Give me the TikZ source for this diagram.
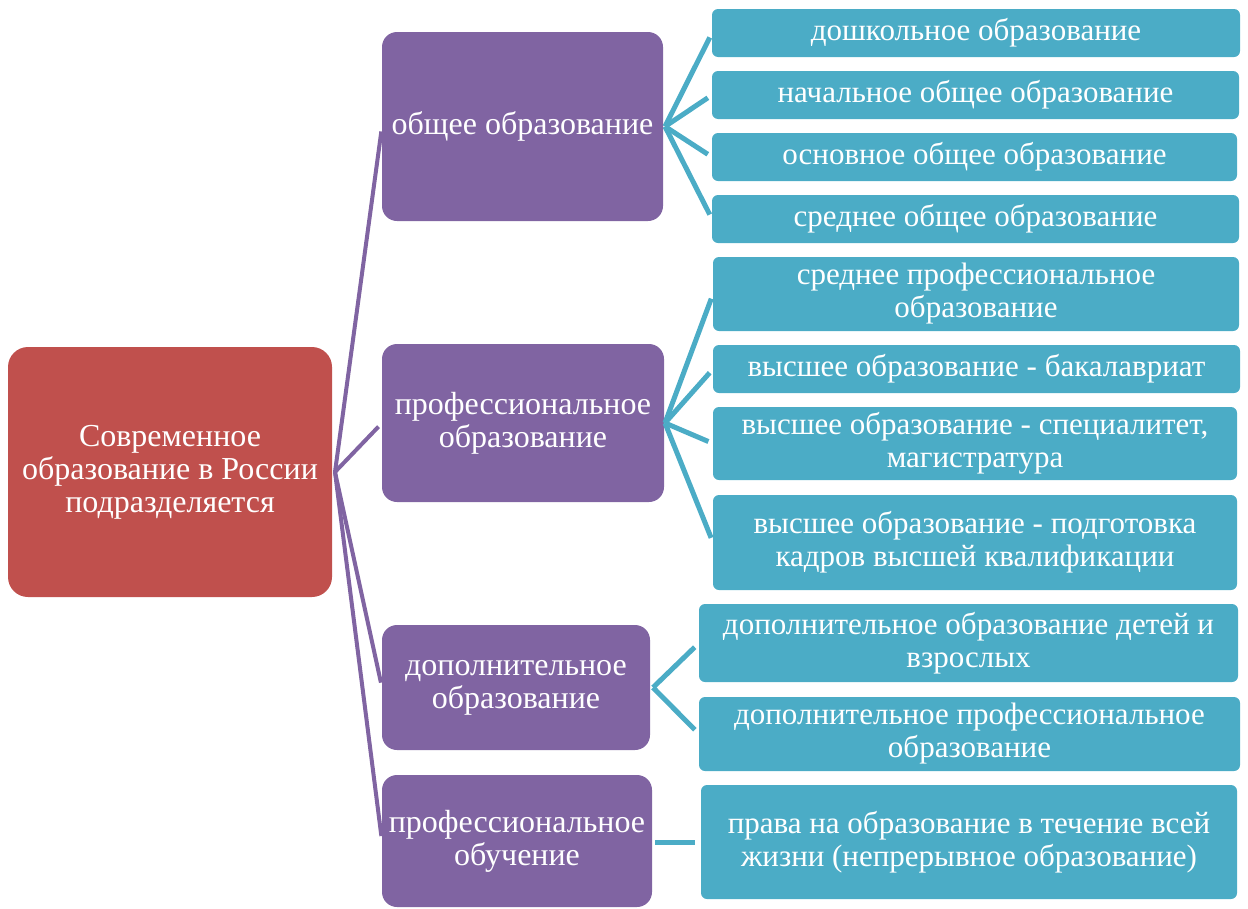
\documentclass[tikz,border=0pt]{standalone}
\usepackage{fontspec}
\setmainfont{Liberation Serif}
\definecolor{rootred}{HTML}{C0504D}
\definecolor{midpurple}{HTML}{8064A2}
\definecolor{leafblue}{HTML}{4BACC6}
\begin{document}
\begin{tikzpicture}[x=1pt,y=-1pt,
  box/.style={rectangle, inner sep=0pt, outer sep=0pt, text=white, align=center,
    font=\fontsize{32}{33}\selectfont},
  rootbox/.style={box, fill=rootred, rounded corners=20pt},
  midbox/.style={box, fill=midpurple, rounded corners=15pt},
  leafbox/.style={box, fill=leafblue, rounded corners=6pt, font=\fontsize{31}{33}\selectfont},
  plink/.style={draw=midpurple, line width=4pt},
  blink/.style={draw=leafblue, line width=5pt}]
\useasboundingbox (0,0) rectangle (1248,908);

\node[rootbox, minimum width=324, minimum height=250] (root) at (170,472)
  {Современное\\образование в России\\подразделяется};

\node[midbox, minimum width=281, minimum height=189] (p1) at (522.5,126.5) {общее образование};
\node[midbox, minimum width=282, minimum height=158] (p2) at (523,423) {профессиональное\\образование};
\node[midbox, minimum width=268, minimum height=125] (p3) at (516,687.5) {дополнительное\\образование};
\node[midbox, minimum width=270, minimum height=132] (p4) at (517,841) {профессиональное\\обучение};

\node[leafbox, minimum width=528, minimum height=48] (l1) at (976,33) {дошкольное образование};
\node[leafbox, minimum width=527, minimum height=48] (l2) at (975.5,95) {начальное общее образование};
\node[leafbox, minimum width=525, minimum height=48] (l3) at (974.5,157) {основное общее образование};
\node[leafbox, minimum width=527, minimum height=48] (l4) at (975.5,219) {среднее общее образование};
\node[leafbox, minimum width=526, minimum height=74] (l5) at (976,294) {среднее профессиональное\\образование};
\node[leafbox, minimum width=527, minimum height=48] (l6) at (976.5,369) {высшее образование - бакалавриат};
\node[leafbox, minimum width=524, minimum height=73] (l7) at (975,443.5) {высшее образование - специалитет,\\магистратура};
\node[leafbox, minimum width=524, minimum height=95] (l8) at (975,542.5) {высшее образование - подготовка\\кадров высшей квалификации};
\node[leafbox, minimum width=539, minimum height=78] (l9) at (968.5,643) {дополнительное образование детей и\\взрослых};
\node[leafbox, minimum width=541, minimum height=74] (l10) at (969.5,734) {дополнительное профессиональное\\образование};
\node[leafbox, minimum width=536, minimum height=114] (l11) at (969,842) {права на образование в течение всей\\жизни (непрерывное образование)};

% purple connectors
\coordinate (rs) at ([xshift=3pt]root.east);
\foreach \p in {p1,p2,p3,p4}
  \draw[plink, shorten >=5pt] (rs) -- (\p.west);

% blue connectors
\coordinate (b1) at ([xshift=2pt]p1.east);
\foreach \l in {l1,l2,l3,l4}
  \draw[blink, shorten >=5pt] (b1) -- (\l.west);
\coordinate (b2) at ([xshift=1pt]p2.east);
\foreach \l in {l5,l6,l7,l8}
  \draw[blink, shorten >=5pt] (b2) -- (\l.west);
\coordinate (b3) at ([xshift=3pt]p3.east);
\foreach \l in {l9,l10}
  \draw[blink, shorten >=6pt] (b3) -- (\l.west);
\draw[blink, shorten <=3pt, shorten >=6pt] (p4.east |- l11.west) -- (l11.west);
\end{tikzpicture}
\end{document}
